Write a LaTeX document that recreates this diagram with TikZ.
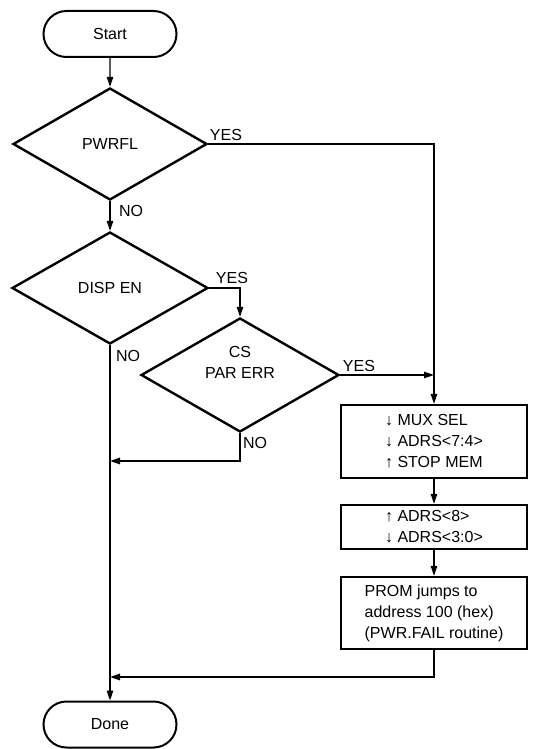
\documentclass[tikz,border=0pt]{standalone}
\usepackage{fontspec}
\setmainfont{Liberation Sans}
\usetikzlibrary{shapes.geometric,shapes.misc,arrows.meta}
\begin{document}
\begin{tikzpicture}[x=1pt,y=-1pt,
  every node/.style={font=\fontsize{16}{21}\selectfont},
  term/.style={draw,rounded rectangle,line width=2pt,minimum width=133pt,minimum height=46pt,inner sep=0pt},
  dec/.style={draw,diamond,line width=2.4pt,inner sep=0pt,align=center},
  proc/.style={draw,rectangle,line width=2.4pt,minimum width=186pt,align=left,inner sep=0pt},
  lab/.style={inner sep=0pt},
  conn/.style={line width=1.3pt},
  arr/.style={conn,-{Triangle[length=10pt,width=6.5pt]}}
]
\useasboundingbox (0,0) rectangle (533,749);
\node[term] (start) at (110,34) {Start};
\node[dec, minimum width=194pt, minimum height=112pt] (pwr) at (110,144) {PWRFL};
\node[dec, minimum width=196pt, minimum height=112pt] (disp) at (110,288) {DISP EN};
\node[dec, minimum width=198pt, minimum height=114pt] (cs) at (240,375)
  {\raisebox{7pt}[0pt][0pt]{\begin{tabular}{@{}c@{}}CS\\PAR ERR\end{tabular}}};
\node[proc, minimum height=73pt] (mux) at (434,441.5) {↓ MUX SEL\\↓ ADRS<7:4>\\↑ STOP MEM};
\node[proc, minimum height=44pt] (adr) at (434,527) {↑ ADRS<8>\\↓ ADRS<3:0>};
\node[proc, minimum height=72pt] (prom) at (434,613) {PROM jumps to\\address 100 (hex)\\(PWR.FAIL routine)};
\node[term] (done) at (110,724.5) {Done};

\coordinate (j1) at (434,375);
\coordinate (j2) at (110,461);
\coordinate (j3) at (110,677);

\node[lab] (y1) at (226,135) {YES};
\node[lab] (n1) at (131,211) {NO};
\node[lab] (y2) at (232,278) {YES};
\node[lab] (n2) at (128,356) {NO};
\node[lab] (y3) at (359,366) {YES};
\node[lab] (n3) at (255,443) {NO};

\draw[arr] (start) -- (pwr);
\draw[arr] (pwr) -- (disp);
\draw[arr] (pwr.east) -| (mux.north);
\draw[arr] (disp.east) -| (cs.north);
\draw[arr] (cs.east) -- (j1);
\draw[arr] (disp.south) -- (done.north);
\draw[arr] (cs.south) |- (j2);
\draw[arr] (mux) -- (adr);
\draw[arr] (adr) -- (prom);
\draw[arr] (prom.south) |- (j3);
\end{tikzpicture}
\end{document}
